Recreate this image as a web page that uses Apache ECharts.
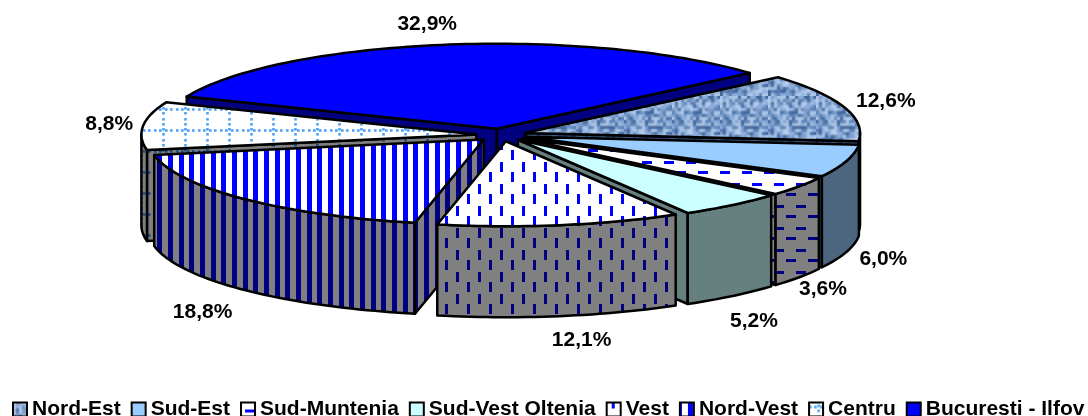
<!DOCTYPE html>
<html>
<head>
<meta charset="utf-8">
<style>
  html, body { margin: 0; padding: 0; background: #fff; }
  #chart { width: 1088px; height: 416px; }
</style>
<script src="https://cdn.jsdelivr.net/npm/echarts@6/dist/echarts.min.js"></script>
</head>
<body>
<div id="chart"></div>
<script>
const categories = ['Nord-Est', 'Sud-Est', 'Sud-Muntenia', 'Sud-Vest Oltenia', 'Vest', 'Nord-Vest', 'Centru', 'Bucuresti - Ilfov'];
const shares = [12.6, 6.0, 3.6, 5.2, 12.1, 18.8, 8.8, 32.9];

// Pie layout, screen angles run clockwise
const FONT = 'bold 21px "Liberation Sans", Arial, sans-serif';
const CENTER = [501.3, 135];
const RX = 335;
const RY = 85;
const DEPTH = 91;
const EXPLODE = 25;
const START_ANGLE = 319;
// Label offset from the slice rim, in px
const labelOffsets = [[42, -6], [37, 7], [24, 12], [22, 25], [22, 24], [-44, 22], [-34, -2], [-18, -21]];

// Pattern tiles
const tile = (w, h, bg, draw) => {
  const c = document.createElement('canvas');
  c.width = w;
  c.height = h;
  const ctx = c.getContext('2d');
  ctx.fillStyle = bg;
  ctx.fillRect(0, 0, w, h);
  draw(ctx, c);
  return { image: c, repeat: 'repeat' };
};

const vDashes = (bg, fg) => tile(22, 22, bg, ctx => {
  ctx.fillStyle = fg;
  ctx.fillRect(16, 8, 3, 10);
  ctx.fillRect(5, 0, 3, 6);
  ctx.fillRect(5, 18, 3, 4);
});

const hDashes = (bg, fg) => tile(22, 22, bg, ctx => {
  ctx.fillStyle = fg;
  ctx.fillRect(4, 7, 10, 3);
  ctx.fillRect(16, 17, 6, 3);
  ctx.fillRect(0, 17, 4, 3);
});

const vStripes = (bg, fg) => tile(32, 4, bg, ctx => {
  ctx.fillStyle = fg;
  [8, 19, 29].forEach(x => ctx.fillRect(x, 0, 5, 4));
  ctx.fillRect(0, 0, 2, 4);
});

const dotGrid = (bg, fg) => tile(22, 21, bg, ctx => {
  ctx.fillStyle = fg;
  [0, 5, 11, 16].forEach(i => {
    ctx.fillRect(i, 3.2, 2.6, 2.6);
    ctx.fillRect(8.2, (i + 2) % 21, 2.6, 2.6);
  });
});

// Woven look of the Nord-Est slice
const weave = (shades, bg) => tile(48, 48, bg, (ctx, c) => {
  let seed = 17;
  for (let y = 0; y < 48; y += 3) {
    for (let x = 0; x < 48; x += 3) {
      seed = (seed * 137 + 59) % 1009;
      ctx.fillStyle = shades[seed % shades.length];
      ctx.fillRect(x, y, 3, 3);
    }
  }
  ctx.globalAlpha = 0.8;
  ctx.filter = 'blur(1.2px)';
  ctx.drawImage(c, 0, 0);
  ctx.filter = 'none';
  ctx.globalAlpha = 1;
});

const topFills = [
  weave(['#B4CCEA', '#3F6499', '#8FB0DC', '#5C80B5', '#A9C4E6', '#7F9FCC'], '#7F9FCC'),
  '#99CCFF', hDashes('#FFFFFF', '#0000FF'), '#CCFFFF',
  vDashes('#FFFFFF', '#0000FF'), vStripes('#FFFFFF', '#0000FF'), dotGrid('#FFFFFF', '#4DA3F5'), '#0000FF'
];
const wallFills = [
  weave(['#2C4468', '#3D5A85', '#4C6A96', '#1F3558'], '#3D5A85'),
  '#4D6680', hDashes('#808080', '#000080'), '#668080',
  vDashes('#808080', '#000080'), vStripes('#808080', '#000080'), dotGrid('#808080', '#1A4C80'), '#000080'
];

const total = shares.reduce((a, b) => a + b, 0);
const rad = d => d * Math.PI / 180;
let cursor = START_ANGLE;
const slices = shares.map(v => {
  const from = cursor;
  const to = cursor + v / total * 360;
  cursor = to;
  const mid = (from + to) / 2;
  const cx = CENTER[0] + EXPLODE * Math.cos(rad(mid));
  const cy = CENTER[1] + EXPLODE * Math.sin(rad(mid)) * RY / RX;
  return { from, to, mid, cx, cy };
});

// The 3D view is not a pure ellipse, angles drift a little around the rim
const warp = a => a + 1 + Math.sin(rad(2 * a));
const rim = (s, a, dy) => {
  const t = rad(warp(a));
  return [s.cx + RX * Math.cos(t), s.cy + RY * Math.sin(t) + (dy || 0)];
};
const arcPoints = (s, a0, a1, dy) => {
  const pts = [];
  const steps = Math.max(2, Math.ceil((a1 - a0) / 1.5));
  for (let i = 0; i <= steps; i++) pts.push(rim(s, a0 + (a1 - a0) * i / steps, dy));
  return pts;
};
const face = (points, fill) => ({
  type: 'polygon',
  shape: { points },
  style: { fill, stroke: '#000', lineWidth: 2.5, lineJoin: 'round' }
});

const renderSlice = i => () => {
  const s = slices[i];
  const apex = [s.cx, s.cy];
  const apexLow = [s.cx, s.cy + DEPTH];
  const children = [];
  // Radial walls, only those facing the viewer
  [[s.from, -90], [s.to, 90]].forEach(([a, turn]) => {
    if (Math.sin(rad(a + turn)) > 0) {
      children.push(face([apex, rim(s, a), rim(s, a, DEPTH), apexLow], wallFills[i]));
    }
  });
  // Outer wall, only the part that faces the viewer
  [[s.from, s.to], [s.from - 360, s.to - 360], [s.from + 360, s.to + 360]].forEach(([a, b]) => {
    const a0 = Math.max(a, -1);
    const a1 = Math.min(b, 179);
    if (a1 > a0) {
      const upper = arcPoints(s, a0, a1, 0);
      const lower = arcPoints(s, a0, a1, DEPTH).reverse();
      children.push(face(upper.concat(lower), wallFills[i]));
    }
  });
  children.push(face([apex].concat(arcPoints(s, s.from, s.to, 0)), topFills[i]));
  // Value label
  const sinMid = Math.sin(rad(s.mid));
  const anchor = rim(s, s.mid, sinMid > 0 ? DEPTH : 0);
  children.push({
    type: 'text',
    style: {
      text: shares[i].toFixed(1).replace('.', ',') + '%',
      x: anchor[0] + labelOffsets[i][0],
      y: anchor[1] + labelOffsets[i][1],
      fill: '#000',
      font: FONT,
      align: 'center',
      verticalAlign: 'middle'
    }
  });
  return { type: 'group', children };
};

// Back slices are painted first
const paintRank = slices
  .map((s, i) => [Math.sin(rad(s.mid)), i])
  .sort((a, b) => a[0] - b[0])
  .map(d => d[1]);

const chart = echarts.init(document.getElementById('chart'));
chart.setOption({
  animation: false,
  backgroundColor: '#fff',
  legend: {
    left: 12,
    right: 0,
    top: 399,
    padding: 0,
    icon: 'rect',
    itemWidth: 14,
    itemHeight: 14,
    itemGap: 10,
    textStyle: { color: '#000', fontFamily: '"Liberation Sans", Arial, sans-serif', fontWeight: 'bold', fontSize: 21 },
    data: categories.map((name, i) => ({
      name,
      itemStyle: { color: topFills[i], borderColor: '#000', borderWidth: 2 }
    }))
  },
  series: categories.map((name, i) => ({
    type: 'custom',
    name,
    coordinateSystem: 'none',
    z: 2 + paintRank.indexOf(i),
    silent: true,
    itemStyle: { color: typeof topFills[i] === 'string' ? topFills[i] : '#7F9FCC' },
    renderItem: renderSlice(i),
    data: [shares[i]]
  }))
});
</script>
</body>
</html>
